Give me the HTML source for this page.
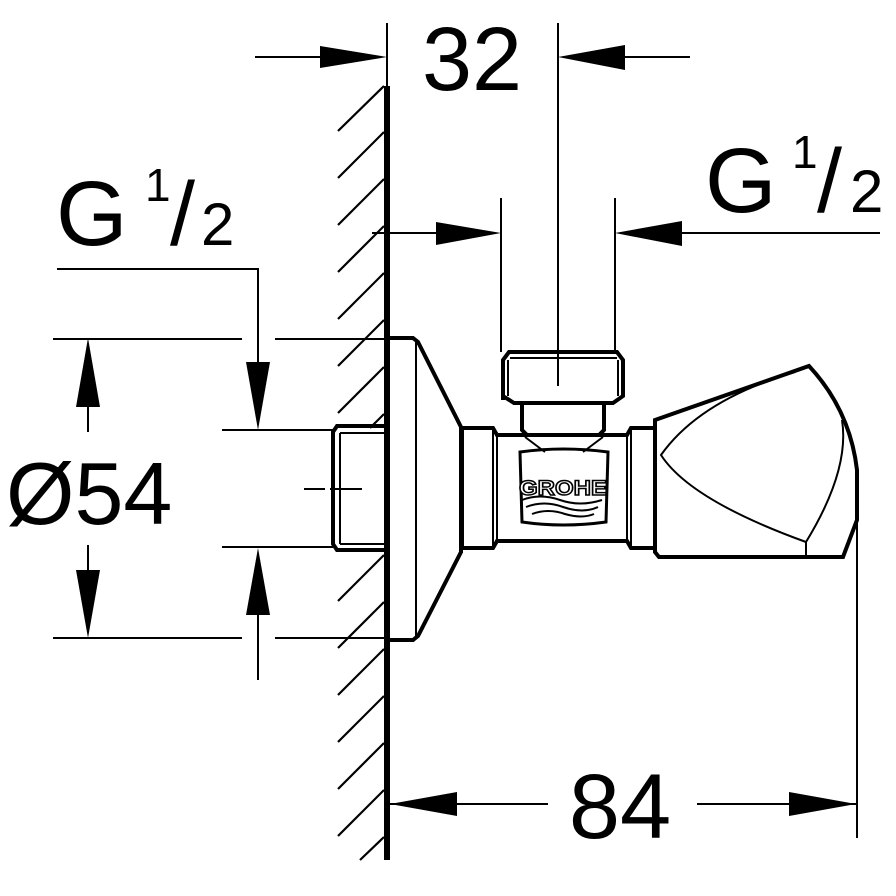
<!DOCTYPE html>
<html><head><style>body{margin:0;background:#fff}svg{display:block}</style></head><body>
<svg width="896" height="896" viewBox="0 0 896 896" xmlns="http://www.w3.org/2000/svg" font-family="Liberation Sans, sans-serif">
<rect width="896" height="896" fill="#fff"/>
<g stroke="#000" fill="none" stroke-width="2">
<line x1="387" y1="23" x2="387" y2="86"/>
<line x1="387" y1="86" x2="387" y2="860" stroke-width="6"/>
<g stroke-width="2.2">
<line x1="338" y1="131" x2="384" y2="86"/><line x1="338" y1="178" x2="384" y2="132"/><line x1="338" y1="225" x2="384" y2="179"/><line x1="338" y1="272" x2="384" y2="226"/><line x1="338" y1="319" x2="384" y2="273"/><line x1="338" y1="366" x2="384" y2="320"/><line x1="338" y1="413" x2="384" y2="367"/><line x1="370" y1="428" x2="384" y2="414"/>
<line x1="338" y1="601" x2="384" y2="555"/><line x1="338" y1="648" x2="384" y2="602"/><line x1="338" y1="695" x2="384" y2="649"/><line x1="338" y1="742" x2="384" y2="696"/><line x1="338" y1="789" x2="384" y2="743"/><line x1="338" y1="836" x2="384" y2="790"/><line x1="360" y1="860" x2="384" y2="837"/>
</g>
<path d="M387 338 H413 L418 342 L461 427 V552 L418 636 L413 640 H387" stroke-width="4"/>
<line x1="416" y1="342" x2="416" y2="636"/>
<path d="M387 426 H337 L333 432 V544 L337 550 H387" stroke-width="4"/>
<line x1="340" y1="433" x2="387" y2="433"/><line x1="340" y1="544" x2="387" y2="544"/><line x1="340" y1="433" x2="340" y2="544"/>
<line x1="304" y1="489" x2="325" y2="489"/><line x1="330" y1="489" x2="362" y2="489"/>
<path d="M462 428 H493 L497 435 H627 L631 428 H655" stroke-width="4"/>
<path d="M462 548 H493 L497 541 H627 L631 548 H655" stroke-width="4"/>
<line x1="462" y1="428" x2="462" y2="548" stroke-width="4"/>
<line x1="497" y1="435" x2="497" y2="541"/><line x1="627" y1="435" x2="627" y2="541"/>
<line x1="493" y1="430" x2="493" y2="546"/><line x1="631" y1="430" x2="631" y2="546"/>
<path d="M527 435 L522 430 V402 M599 435 L604 430 V402" stroke-width="4"/>
<path d="M503 400 V360 L509 352 H617 L623 360 V396 L613 403 H514 L503 396" stroke-width="4"/>
<line x1="510" y1="358" x2="617" y2="358"/><line x1="508" y1="360" x2="508" y2="396"/><line x1="618" y1="360" x2="618" y2="396"/>
<path d="M525 437 L545 452 M603 437 L583 452"/>
<path d="M520 452 Q563 446 608 452 L606 522 Q563 528 522 522 Z" stroke-width="3"/>
<path d="M522 500 Q540 493 560 500 Q580 507 602 500 M526 507 Q544 500 563 507 Q583 514 598 507 M532 514 Q548 508 565 514 Q582 519 594 514" stroke-width="2"/>
<path d="M655 420 L809 366 Q850 410 857 470 L857 520 L843 557 H659 L655 552 Z" stroke-width="4"/>
<path d="M795 372 Q700 400 661 455 Q690 500 806 542 Q850 470 842 420"/>
<line x1="806" y1="542" x2="806" y2="557"/>
<line x1="558" y1="23" x2="558" y2="386"/>
<line x1="255" y1="57" x2="330" y2="57"/>
<line x1="620" y1="57" x2="690" y2="57"/>
<line x1="501" y1="198" x2="501" y2="352"/><line x1="615" y1="198" x2="615" y2="352"/>
<line x1="372" y1="233" x2="440" y2="233"/>
<line x1="680" y1="233" x2="880" y2="233"/>
<path d="M57 269 H258 V370"/>
<line x1="53" y1="339" x2="242" y2="339"/><line x1="275" y1="339" x2="387" y2="339"/>
<line x1="53" y1="638" x2="242" y2="638"/><line x1="275" y1="638" x2="387" y2="638"/>
<line x1="222" y1="430" x2="333" y2="430"/><line x1="222" y1="547" x2="333" y2="547"/>
<line x1="88" y1="400" x2="88" y2="432"/><line x1="88" y1="545" x2="88" y2="575"/>
<line x1="258" y1="605" x2="258" y2="680"/>
<line x1="390" y1="804" x2="548" y2="804"/><line x1="697" y1="804" x2="856" y2="804"/>
<line x1="857" y1="470" x2="857" y2="838"/>
</g>
<g fill="#000">
<polygon points="387,57 320,46 320,68"/>
<polygon points="558,57 625,45 625,70"/>
<polygon points="501,233 436,222 436,245"/>
<polygon points="615,233 682,221 682,246"/>
<polygon points="258,430 246,362 270,362"/>
<polygon points="258,548 246,615 270,615"/>
<polygon points="88,338 76,407 100,407"/>
<polygon points="88,638 76,570 100,570"/>
<polygon points="390,804 457,792 457,816"/>
<polygon points="856,804 789,792 789,816"/>
</g>
<g fill="#000">
<text x="472" y="90" font-size="90" text-anchor="middle">32</text>
<text x="56" y="245" font-size="92">G</text>
<text x="145" y="201" font-size="46">1</text>
<text x="170" y="245" font-size="90">/</text>
<text x="201" y="245" font-size="60">2</text>
<text x="705" y="212" font-size="92">G</text>
<text x="792" y="168" font-size="46">1</text>
<text x="817" y="212" font-size="90">/</text>
<text x="850" y="212" font-size="60">2</text>
<text x="6" y="524" font-size="88">Ø54</text>
<text x="620" y="838" font-size="92" text-anchor="middle">84</text>
<text x="563" y="495" font-size="21" font-weight="bold" text-anchor="middle" textLength="88" lengthAdjust="spacingAndGlyphs" fill="#fff" stroke="#000" stroke-width="1.5">GROHE</text>
</g>
</svg>
</body></html>
